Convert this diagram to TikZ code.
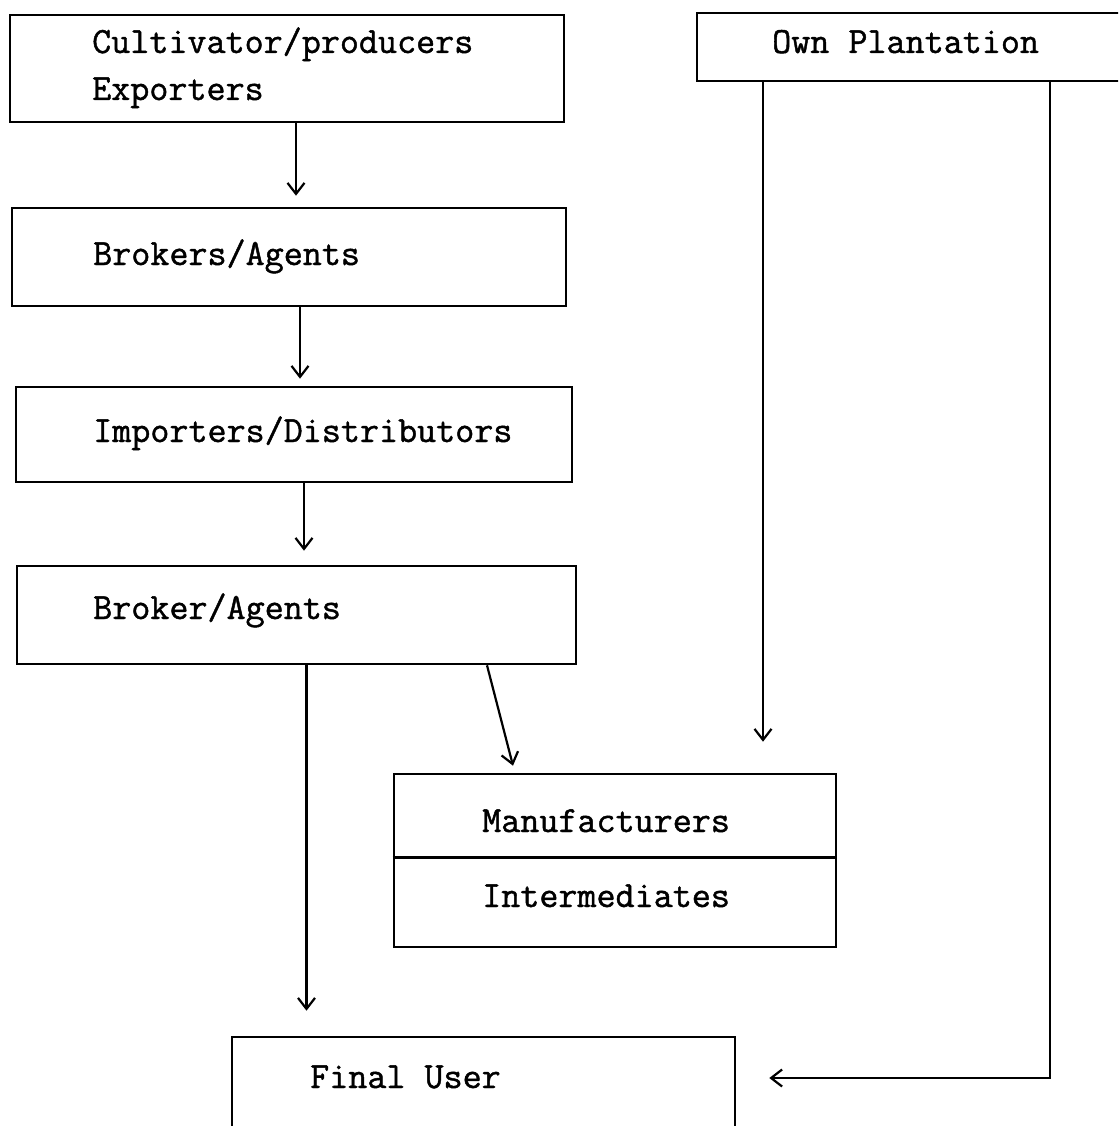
\documentclass[tikz,border=0pt]{standalone}
\usepackage{fontspec}
\setmonofont[FakeBold=1.2]{Latin Modern Mono}
\usetikzlibrary{arrows.meta}
\tikzset{
  boxshape/.style={draw, line width=2.6pt, rectangle, inner sep=0pt},
  lbl/.style={inner sep=0pt, anchor=base west, font=\fontsize{37}{44}\selectfont\ttfamily\bfseries},
  arr/.style={line width=2.2pt, -{Straight Barb[length=11pt,width=17pt,line width=2.2pt]}}
}
\begin{document}
\begin{tikzpicture}[x=1pt,y=-1pt]
\useasboundingbox (0,0) rectangle (1118,1126);
\clip (0,0) rectangle (1118,1126);
% boxes (centre, size)
\node[boxshape, minimum width=554pt, minimum height=107pt] (b1) at (287,68.5) {};
\node[boxshape, minimum width=554pt, minimum height=98pt] (b2) at (289,257) {};
\node[boxshape, minimum width=556pt, minimum height=95pt] (b3) at (294,434.5) {};
\node[boxshape, minimum width=559pt, minimum height=98pt] (b4) at (296.5,615) {};
\node[boxshape, minimum width=442pt, minimum height=173pt] (man) at (615,860.5) {};
\node[boxshape, minimum width=443pt, minimum height=68pt] (own) at (918.5,47) {};
\node[boxshape, minimum width=503pt, minimum height=103pt] (fin) at (483.5,1088.5) {};
\draw[line width=2.6pt] ([yshift=-85pt]man.north west) -- ([yshift=-85pt]man.north east);
% texts
\node[lbl] (t1a) at (92,53) {Cultivator/producers};
\node[lbl] (t1b) at (92,100) {Exporters};
\node[lbl] (t2) at (93,265) {Brokers/Agents};
\node[lbl] (t3) at (93,442) {Importers/Distributors};
\node[lbl] (t4) at (93,619) {Broker/Agents};
\node[lbl] (t5) at (482,832) {Manufacturers};
\node[lbl] (t6) at (482,907) {Intermediates};
\node[lbl] (t7) at (772,53) {Own Plantation};
\node[lbl] (t8) at (310,1088) {Final User};
% connectors
\coordinate (a1) at ([xshift=9pt]b1.south);
\draw[arr, shorten >=11pt] (a1) -- (a1 |- b2.north);
\coordinate (a2) at ([xshift=11pt]b2.south);
\draw[arr, shorten >=7pt] (a2) -- (a2 |- b3.north);
\coordinate (a3) at ([xshift=10pt]b3.south);
\draw[arr, shorten >=14pt] (a3) -- (a3 |- b4.north);
\coordinate (a4) at ([xshift=10pt]b4.south);
\draw[arr, shorten >=25pt] (a4) -- (a4 |- fin.north);
\draw[arr] ([xshift=190.5pt]b4.south) -- ([xshift=-102pt,yshift=7pt]man.north);
\coordinate (o1) at ([xshift=-155.5pt]own.south);
\draw[arr, shorten >=31pt] (o1) -- (o1 |- man.north);
\coordinate (o2) at ([xshift=131.5pt]own.south);
\coordinate (f1) at ([yshift=10.5pt]fin.east);
\draw[arr, shorten >=33pt] (o2) |- (f1);
\end{tikzpicture}
\end{document}
